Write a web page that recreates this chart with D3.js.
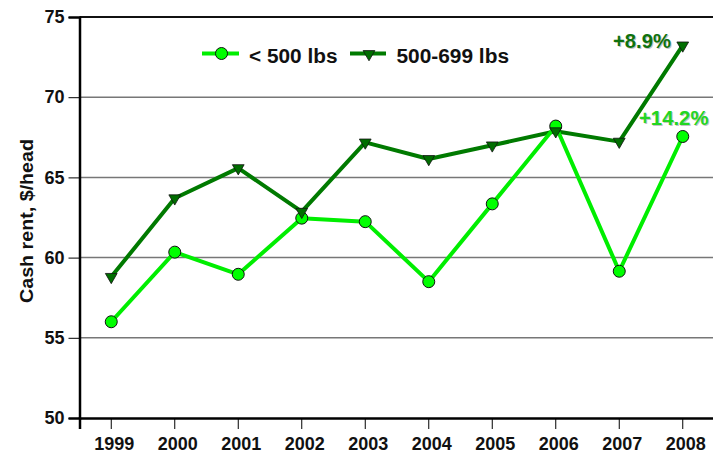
<!DOCTYPE html>
<html>
<head>
<meta charset="utf-8">
<script src="https://cdn.jsdelivr.net/npm/d3@7"></script>
<style>
  html, body { margin: 0; padding: 0; background: #fff; }
  svg { display: block; font-family: "Liberation Sans", Arial, sans-serif; font-weight: bold; }
</style>
</head>
<body>
<svg id="chart" width="713" height="455"></svg>
<script>
// Cash rent per head by year and weight class
const years = ["1999","2000","2001","2002","2003","2004","2005","2006","2007","2008"];
const under500 = [56.0, 60.34, 58.96, 62.46, 62.24, 58.5, 63.35, 68.2, 59.15, 67.55];
const from500to699 = [58.8, 63.7, 65.58, 62.86, 67.18, 66.15, 67.0, 67.88, 67.23, 73.23];
const seriesNames = ["< 500 lbs", "500-699 lbs"];
const yTicks = [50, 55, 60, 65, 70, 75];
const changeLabels = ["+14.2%", "+8.9%"];
const yTitle = "Cash rent, $/head";

const svg = d3.select("#chart");
const plotLeft = 79.5, plotRight = 714.5, plotTop = 17, plotBottom = 418;

const x = d3.scaleBand().domain(years).range([plotLeft, plotRight]).padding(0);
const cx = d => x(d) + x.bandwidth() / 2;
const y = d3.scaleLinear().domain([50, 75]).range([plotBottom, plotTop]);

const lightGreen = "#00ee00", lightFill = "#00ff00";
const darkGreen = "#007a00", darkFill = "#006e00";
const fontFamily = "Liberation Sans, Arial, sans-serif";

// horizontal grid lines
svg.append("g")
  .selectAll("line")
  .data(yTicks.filter(t => t > 50 && t < 75))
  .join("line")
  .attr("x1", plotLeft).attr("x2", 713)
  .attr("y1", d => y(d)).attr("y2", d => y(d))
  .attr("stroke", "#777").attr("stroke-width", 1.5);

// top frame line
svg.append("line")
  .attr("x1", plotLeft).attr("x2", 713)
  .attr("y1", y(75)).attr("y2", y(75))
  .attr("stroke", "#111").attr("stroke-width", 2);

// y axis
const yAxis = d3.axisLeft(y).tickValues(yTicks).tickSize(11).tickPadding(4);
const gy = svg.append("g").attr("transform", `translate(${plotLeft},0)`).call(yAxis);
gy.select(".domain").attr("stroke", "#000").attr("stroke-width", 2.5);
gy.selectAll(".tick line").attr("stroke", "#000").attr("stroke-width", 1);
gy.selectAll(".tick text")
  .attr("font-size", 18).attr("font-weight", "bold").attr("fill", "#111")
  .attr("font-family", fontFamily);

// x axis
const xAxis = d3.axisBottom(x).tickSizeOuter(0).tickSize(11).tickPadding(8);
const gx = svg.append("g").attr("transform", `translate(0,${plotBottom})`).call(xAxis);
gx.select(".domain").attr("stroke", "#000").attr("stroke-width", 2.5);
gx.selectAll(".tick line").attr("stroke", "#000").attr("stroke-width", 1);
gx.selectAll(".tick text")
  .attr("font-size", 18).attr("font-weight", "bold").attr("fill", "#111")
  .attr("dx", 3)
  .attr("font-family", fontFamily);

// y axis title
svg.append("text")
  .attr("transform", `translate(32.5,221) rotate(-90)`)
  .attr("text-anchor", "middle")
  .attr("font-size", 18.5)
  .attr("textLength", 164).attr("lengthAdjust", "spacingAndGlyphs")
  .attr("fill", "#111")
  .text(yTitle);

const line = d3.line().x((d, i) => cx(years[i])).y(d => y(d));
const tri = d3.symbol().type(d3.symbolTriangle).size(60);

// 500-699 lbs series
svg.append("path").datum(from500to699)
  .attr("d", line).attr("fill", "none")
  .attr("stroke", darkGreen).attr("stroke-width", 4).attr("stroke-linejoin", "round");

// < 500 lbs series
svg.append("path").datum(under500)
  .attr("d", line).attr("fill", "none")
  .attr("stroke", lightGreen).attr("stroke-width", 4).attr("stroke-linejoin", "round");

svg.append("g").selectAll("circle").data(under500).join("circle")
  .attr("cx", (d, i) => cx(years[i])).attr("cy", d => y(d)).attr("r", 6)
  .attr("fill", lightFill).attr("stroke", "#111").attr("stroke-width", 1);

svg.append("g").selectAll("path").data(from500to699).join("path")
  .attr("d", tri)
  .attr("transform", (d, i) => `translate(${cx(years[i])},${y(d)}) rotate(180)`)
  .attr("fill", darkFill).attr("stroke", "#111").attr("stroke-width", 0.8);

// legend
const lg = svg.append("g");
lg.append("line").attr("x1", 202).attr("x2", 239).attr("y1", 53.5).attr("y2", 53.5)
  .attr("stroke", lightGreen).attr("stroke-width", 4);
lg.append("circle").attr("cx", 221.5).attr("cy", 53.5).attr("r", 6)
  .attr("fill", lightFill).attr("stroke", "#111").attr("stroke-width", 1);
lg.append("text").attr("x", 249).attr("y", 62.5).attr("font-size", 19.5)
  .attr("textLength", 88.5).attr("lengthAdjust", "spacingAndGlyphs")
  .attr("fill", "#111").text(seriesNames[0]);
lg.append("line").attr("x1", 350).attr("x2", 386).attr("y1", 53.5).attr("y2", 53.5)
  .attr("stroke", darkGreen).attr("stroke-width", 4);
lg.append("path").attr("d", tri)
  .attr("transform", "translate(369,54) rotate(180)")
  .attr("fill", darkFill).attr("stroke", "#111").attr("stroke-width", 0.8);
lg.append("text").attr("x", 396.5).attr("y", 62.5).attr("font-size", 19.5)
  .attr("textLength", 112.5).attr("lengthAdjust", "spacingAndGlyphs")
  .attr("fill", "#111").text(seriesNames[1]);

// percent change annotations for the last year
const last = years.length - 1;
function changeText(label, color, xEnd, yBase, width) {
  [["#c4c4c4", 1], [color, 0]].forEach(([fill, off]) => {
    svg.append("text").attr("x", xEnd - width + off).attr("y", yBase + off)
      .attr("font-size", 19.5)
      .attr("textLength", width).attr("lengthAdjust", "spacingAndGlyphs")
      .attr("fill", fill).text(label);
  });
}
changeText(changeLabels[1], "#0e720e", 671, y(from500to699[last]) + 3, 58);
changeText(changeLabels[0], "#22d622", 708.5, y(under500[last]) - 11.5, 69.5);
</script>
</body>
</html>
